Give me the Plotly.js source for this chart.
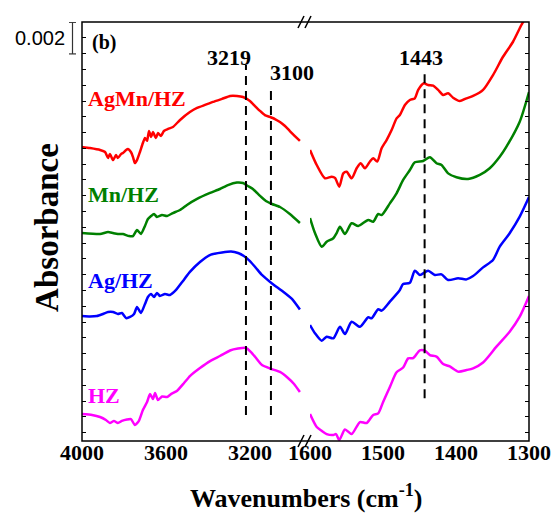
<!DOCTYPE html>
<html>
<head>
<meta charset="utf-8">
<script src="https://cdn.plot.ly/plotly-3.0.1.min.js"></script>
<style>html,body{margin:0;padding:0;background:#fff;}#chart{width:555px;height:514px;}</style>
</head>
<body>
<div id="chart"></div>
<script>
// Absorbance in units of 0.001 (scale bar = 0.002 = 2 units)
const wnL_AgMn = [4000,3962,3914,3890,3876,3867,3852,3838,3829,3814,3805,3790,3781,3767,3757,3748,3738,3724,3710,3700,3690,3681,3671,3662,3648,3638,3624,3610,3590,3567,3533,3486,3452,3414,3376,3333,3295,3262,3233,3200,3176,3152,3129,3105,3081,3057,3033,3010,2986,2962];
const aL_AgMn  = [18.61,18.54,18.42,18.29,17.91,18.16,17.78,18.10,17.91,18.16,18.23,18.42,18.48,18.29,17.97,17.59,17.78,18.29,18.86,19.18,19.00,19.62,19.24,19.56,19.18,19.49,19.30,19.62,19.75,19.87,20.32,20.82,21.08,21.27,21.46,21.65,21.84,21.84,21.77,21.52,21.20,20.89,20.63,20.51,20.38,20.19,19.94,19.62,19.30,18.99];
const wnR_AgMn = [1600,1590.8,1579.5,1570.3,1565.8,1559.9,1554.4,1549.8,1543.0,1536.1,1530.6,1524.8,1517.9,1513.4,1507.9,1501.9,1495.1,1488.2,1481.4,1476.9,1470.0,1463.2,1456.4,1451.8,1444.0,1438.2,1431.3,1424.5,1417.6,1410.8,1404.0,1394.8,1385.6,1376.6,1362.9,1349.3,1335.6,1321.9,1310.4,1300];
const aR_AgMn  = [18.42,17.47,16.63,16.73,16.65,16.10,16.94,17.04,16.63,17.26,17.58,17.26,17.69,17.90,17.69,18.53,19.05,19.68,20.42,20.63,21.27,21.58,21.69,22.22,22.64,22.53,22.49,22.22,21.90,22.01,21.73,21.52,21.69,21.84,22.22,23.16,24.32,25.27,26.33,27.15];

const wnL_Mn = [4000,3914,3876,3852,3829,3805,3776,3757,3738,3719,3700,3686,3671,3657,3643,3619,3595,3567,3533,3500,3452,3390,3343,3305,3262,3233,3210,3186,3152,3124,3095,3057,3010,2962];
const aL_Mn  = [13.16,13.10,13.23,13.16,13.10,13.10,12.97,12.97,13.35,13.10,13.61,14.05,14.24,14.37,14.18,14.30,14.24,14.43,14.62,14.94,15.32,15.70,15.95,16.20,16.36,16.33,16.14,15.95,15.51,15.19,15.00,14.81,14.37,13.80];
const wnR_Mn = [1600,1593.2,1584.0,1577.2,1568.1,1563.5,1559.0,1552.1,1543.0,1533.9,1520.2,1513.4,1506.6,1501.9,1490.6,1481.4,1472.4,1463.2,1456.4,1445.0,1435.8,1426.7,1419.8,1410.8,1399.3,1383.4,1367.4,1353.8,1340.1,1330.9,1312.7,1300];
const aR_Mn  = [14.11,13.16,12.30,12.61,12.83,13.16,13.56,13.10,13.78,13.61,13.99,13.88,14.37,14.30,15.04,15.68,16.52,17.15,17.64,17.72,17.96,17.58,17.47,16.94,16.69,16.58,16.84,17.26,17.99,18.63,20.21,22.09];

const wnL_Ag = [4000,3962,3929,3900,3876,3852,3829,3810,3790,3771,3752,3738,3719,3700,3686,3671,3657,3643,3629,3605,3581,3552,3519,3486,3438,3386,3333,3290,3257,3229,3200,3171,3143,3095,3043,3000,2962];
const aL_Ag  = [7.91,7.88,7.91,8.04,8.16,8.16,8.04,8.10,7.78,7.85,8.04,8.48,8.10,8.67,9.11,9.30,9.11,9.37,9.18,9.30,9.24,9.56,10.13,10.70,11.33,11.80,11.93,11.99,11.90,11.71,11.39,10.95,10.51,9.97,9.46,8.99,8.32];
const wnR_Ag = [1600,1593.2,1584.0,1577.2,1568.1,1559.0,1552.1,1543.0,1531.6,1520.2,1515.6,1506.6,1501.9,1490.6,1476.9,1472.4,1463.2,1456.4,1449.5,1438.2,1429.0,1419.8,1410.8,1397.1,1385.6,1376.6,1362.9,1349.3,1340.1,1326.5,1312.7,1300];
const aR_Ag  = [7.34,6.82,6.35,6.60,6.50,7.23,6.77,7.55,7.23,7.83,7.77,8.34,8.25,8.82,9.56,9.94,10.02,10.78,10.51,10.78,10.51,10.55,10.19,10.30,10.23,10.44,10.99,11.46,12.30,13.15,14.20,15.44];

const wnL_HZ = [4000,3952,3914,3886,3867,3848,3829,3810,3786,3767,3748,3729,3710,3690,3676,3662,3652,3638,3619,3595,3576,3548,3514,3486,3438,3390,3343,3295,3257,3219,3195,3171,3143,3105,3057,3019,2990,2962];
const aL_HZ  = [1.71,1.65,1.52,1.33,1.14,1.27,1.14,1.27,1.36,1.39,1.01,1.27,1.96,2.47,2.97,2.66,3.04,2.59,2.82,2.78,2.97,3.16,3.67,4.11,4.62,5.06,5.38,5.73,5.85,5.89,5.63,5.25,4.81,4.59,4.37,3.99,3.61,3.10];
const wnR_HZ = [1600,1590.8,1583.6,1577.2,1568.1,1564.4,1559.9,1552.1,1543.0,1531.6,1522.4,1513.4,1506.6,1499.7,1490.6,1481.4,1472.4,1465.5,1458.7,1449.5,1442.7,1435.8,1426.7,1417.6,1408.5,1397.1,1385.6,1376.6,1362.9,1344.6,1326.5,1312.7,1300];
const aR_HZ  = [1.71,0.89,0.63,0.44,0.38,0.44,0.06,0.73,0.44,1.20,1.14,1.65,1.75,2.49,3.42,4.35,4.65,5.23,5.25,5.74,5.72,5.44,5.34,4.87,4.72,4.39,4.49,4.60,4.97,5.97,6.92,7.87,9.18];

const sampleNames  = ["AgMn/HZ","Mn/HZ","Ag/HZ","HZ"];
const sampleColors = ["#ff0000","#008000","#0000ff","#ff00ff"];
const labelLevels  = [21.65,15.63,10.19,2.85];

const peakWn     = [3219,3100,1443];
const peakLabels = ["3219","3100","1443"];
const peakTop    = [23.8,22.2,23.3];
const peakBottom = [1.65,1.65,2.7];
const peakLabelY = [24.3,23.3,24.25];
const peakShift  = [-17,21,-4];

const leftTicks  = [4000,3600,3200];
const leftMinor  = [3800,3400,3000];
const rightTicks = [1600,1500,1400,1300];
const rightMinor = [1550,1450,1350];

const leftData  = [[wnL_AgMn,aL_AgMn],[wnL_Mn,aL_Mn],[wnL_Ag,aL_Ag],[wnL_HZ,aL_HZ]];
const rightData = [[wnR_AgMn,aR_AgMn],[wnR_Mn,aR_Mn],[wnR_Ag,aR_Ag],[wnR_HZ,aR_HZ]];

const serif = "Liberation Serif, Times New Roman, serif";
const traces = [];
for (let i = 0; i < 4; i++) {
  traces.push({x: leftData[i][0], y: leftData[i][1], xaxis: 'x', yaxis: 'y', mode: 'lines',
    line: {color: sampleColors[i], width: 2.5, shape: 'spline', smoothing: 0.5}, hoverinfo: 'skip', showlegend: false});
  traces.push({x: rightData[i][0], y: rightData[i][1], xaxis: 'x2', yaxis: 'y2', mode: 'lines',
    line: {color: sampleColors[i], width: 2.5, shape: 'spline', smoothing: 0.7}, hoverinfo: 'skip', showlegend: false});
}

const dL = 0.4922, dR = 0.5101;
const yRange = [0, 26.52];
const tickFont = {family: serif, size: 22, color: '#000'};

const shapes = [];
const annotations = [];
// frame
shapes.push({type: 'rect', xref: 'paper', yref: 'paper', x0: 0, x1: 1, y0: 0, y1: 1, line: {color: '#000', width: 1.5}});
// peak dashed lines and labels
for (let i = 0; i < peakWn.length; i++) {
  const xr = peakWn[i] > 2000 ? 'x' : 'x2';
  const yr = peakWn[i] > 2000 ? 'y' : 'y2';
  shapes.push({type: 'line', xref: xr, yref: yr, x0: peakWn[i], x1: peakWn[i], y0: peakBottom[i], y1: peakTop[i],
    line: {color: '#000', width: 2, dash: '9px,6px'}});
  annotations.push({xref: xr, yref: yr, x: peakWn[i], y: peakLabelY[i], text: '<b>' + peakLabels[i] + '</b>', showarrow: false,
    xshift: peakShift[i], font: {family: serif, size: 22, color: '#000'}, xanchor: 'center', yanchor: 'middle'});
}
// sample labels
for (let i = 0; i < 4; i++) {
  annotations.push({xref: 'x', yref: 'y', x: 4000, y: labelLevels[i], text: '<b>' + sampleNames[i] + '</b>', showarrow: false,
    xanchor: 'left', yanchor: 'middle', xshift: 4, font: {family: serif, size: 22, color: sampleColors[i]}});
}
// panel label
annotations.push({xref: 'paper', yref: 'paper', x: 0.018, y: 0.95, text: '<b>(b)</b>', showarrow: false, xanchor: 'left', yanchor: 'middle',
  font: {family: serif, size: 20, color: '#000'}});
// scale bar 0.002 (= 2 units)
const barX = -0.02125, barCap = 0.0078, barTop = 26.5, barLen = 2;
shapes.push({type: 'line', xref: 'paper', yref: 'y', x0: barX, x1: barX, y0: barTop - barLen, y1: barTop, line: {color: '#333', width: 1.2}});
shapes.push({type: 'line', xref: 'paper', yref: 'y', x0: barX - barCap, x1: barX + barCap, y0: barTop, y1: barTop, line: {color: '#333', width: 1.2}});
shapes.push({type: 'line', xref: 'paper', yref: 'y', x0: barX - barCap, x1: barX + barCap, y0: barTop - barLen, y1: barTop - barLen, line: {color: '#333', width: 1.2}});
annotations.push({xref: 'paper', yref: 'y', x: -0.0336, y: barTop - barLen / 2, text: '0.002', showarrow: false, xanchor: 'right', yanchor: 'middle',
  font: {family: 'Liberation Sans, Arial, sans-serif', size: 20, color: '#000'}});
// axis break marks
const brk = (dL + dR) / 2;
[0, 1].forEach(function (yy) {
  [-6, 1].forEach(function (off) {
    shapes.push({type: 'line', xref: 'paper', yref: 'paper', xsizemode: 'pixel', ysizemode: 'pixel', xanchor: brk, yanchor: yy,
      x0: off - 2, x1: off + 4, y0: -6, y1: 6, line: {color: '#000', width: 1.5}});
  });
});
// axis titles
annotations.push({xref: 'paper', yref: 'paper', x: 0.502, y: -0.133, text: '<b>Wavenumbers (cm<sup>-1</sup>)</b>', showarrow: false,
  xanchor: 'center', yanchor: 'middle', font: {family: serif, size: 26, color: '#000'}});
annotations.push({xref: 'paper', yref: 'paper', x: -0.077, y: 0.51, text: '<b>Absorbance</b>', showarrow: false, textangle: -90,
  xanchor: 'center', yanchor: 'middle', font: {family: serif, size: 33, color: '#000'}});

const noLine = {showgrid: false, zeroline: false, showline: false};
const layout = {
  width: 555, height: 514,
  margin: {l: 82, r: 26, t: 22, b: 73, pad: 0},
  paper_bgcolor: '#fff', plot_bgcolor: '#fff',
  showlegend: false,
  // label axes (bottom)
  xaxis: Object.assign({domain: [0, dL], range: [4000, 2952], tickmode: 'array', tickvals: leftTicks, ticktext: leftTicks.map(v => '<b>' + v + '</b>'),
    ticks: '', tickfont: tickFont, ticklabelstandoff: -4, anchor: 'y'}, noLine),
  xaxis2: Object.assign({domain: [dR, 1], range: [1600, 1300], tickmode: 'array', tickvals: rightTicks, ticktext: rightTicks.map(v => '<b>' + v + '</b>'),
    ticks: '', tickfont: tickFont, ticklabelstandoff: -4, anchor: 'y2'}, noLine),
  // top inside ticks
  xaxis3: Object.assign({domain: [0, dL], range: [4000, 2952], overlaying: 'x', side: 'top', anchor: 'y', tickmode: 'array', tickvals: leftTicks.concat(leftMinor),
    ticks: 'inside', ticklen: 4, tickcolor: '#000', showticklabels: false}, noLine),
  xaxis4: Object.assign({domain: [dR, 1], range: [1600, 1300], overlaying: 'x2', side: 'top', anchor: 'y2', tickmode: 'array', tickvals: rightTicks.concat(rightMinor),
    ticks: 'inside', ticklen: 4, tickcolor: '#000', showticklabels: false}, noLine),
  // bottom outside ticks
  xaxis5: Object.assign({domain: [0, dL], range: [4000, 2952], overlaying: 'x', side: 'bottom', anchor: 'y', tickmode: 'array', tickvals: leftTicks,
    ticks: 'outside', ticklen: 6, tickwidth: 1.5, tickcolor: '#000', showticklabels: false,
    minor: {tickmode: 'array', tickvals: leftMinor, ticks: 'outside', ticklen: 4, tickcolor: '#000', tickwidth: 1.2}}, noLine),
  xaxis6: Object.assign({domain: [dR, 1], range: [1600, 1300], overlaying: 'x2', side: 'bottom', anchor: 'y2', tickmode: 'array', tickvals: rightTicks,
    ticks: 'outside', ticklen: 6, tickwidth: 1.5, tickcolor: '#000', showticklabels: false,
    minor: {tickmode: 'array', tickvals: rightMinor, ticks: 'outside', ticklen: 4, tickcolor: '#000', tickwidth: 1.2}}, noLine),
  yaxis: Object.assign({domain: [0, 1], range: yRange, anchor: 'x', side: 'left', tick0: 0.52, dtick: 1, ticks: 'inside', ticklen: 4, tickcolor: '#000',
    showticklabels: false}, noLine),
  yaxis2: Object.assign({domain: [0, 1], range: yRange, anchor: 'x2', side: 'right', tick0: 0.52, dtick: 1, ticks: 'inside', ticklen: 4, tickcolor: '#000',
    showticklabels: false}, noLine),
  shapes: shapes,
  annotations: annotations
};

Plotly.newPlot('chart', traces, layout, {displayModeBar: false, staticPlot: true});
</script>
</body>
</html>
